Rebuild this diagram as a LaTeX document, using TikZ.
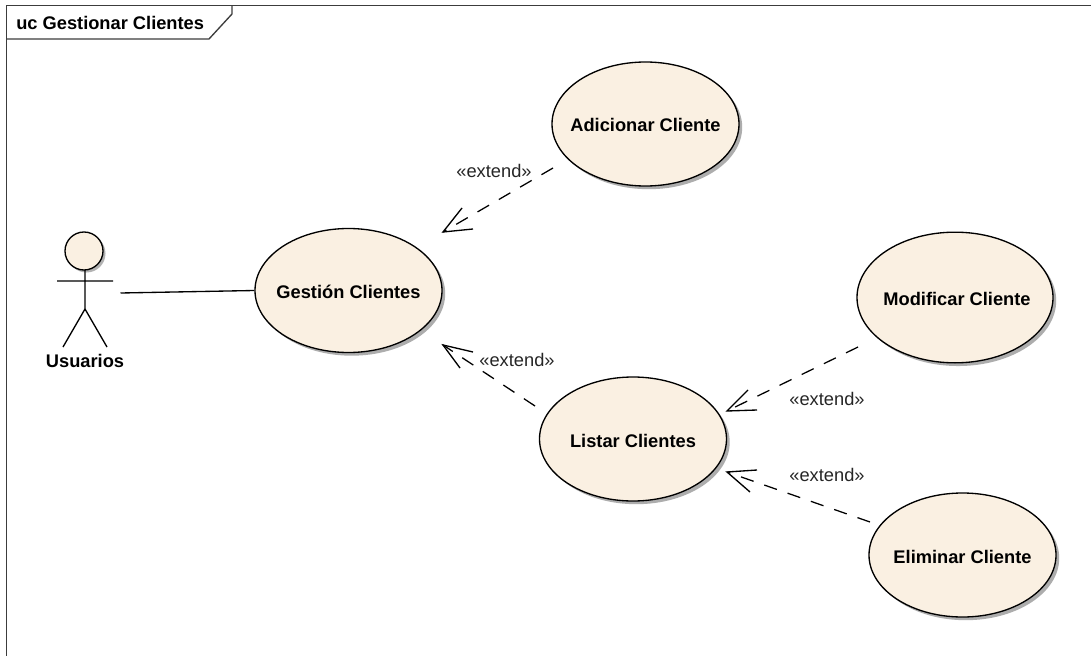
\documentclass[tikz,border=0pt]{standalone}
\usepackage{fontspec}
\setmainfont{Liberation Sans}
\usetikzlibrary{arrows.meta,shadows,shapes.geometric}
\definecolor{ucfill}{RGB}{250,240,226}
\definecolor{frameline}{RGB}{60,60,60}
\newcommand{\dgfont}{\fontsize{13.7}{16}\selectfont}
\tikzset{
  x=0.75pt,y=-0.75pt,
  usecase/.style={ellipse,draw=black,line width=1pt,fill=ucfill,minimum width=140.25pt,minimum height=93pt,inner xsep=-30pt,inner ysep=0pt,text height=13pt,text depth=1pt,font=\bfseries\dgfont,
    drop shadow={shadow xshift=2.4pt,shadow yshift=-2.4pt,fill=black!32,opacity=1}},
  extendline/.style={draw=black,line width=0.95pt,dash pattern=on 10pt off 8.5pt,-},
  openhead/.style={draw=black,line width=1pt,-},
  stereo/.style={font=\dgfont,text=black!85,inner sep=0pt},
  stickline/.style={draw=black,line width=1pt},
  assoc/.style={draw=black,line width=1pt},
}
\begin{document}
\begin{tikzpicture}
\useasboundingbox (0,0) rectangle (1091,656);
\fill[white] (0,0) rectangle (1091,656);
% frame
\draw[frameline,line width=1pt] (6.5,656) -- (6.5,5.5) -- (1091,5.5);
\draw[frameline,line width=1pt] (6.5,39) -- (209,39) -- (232,14) -- (232,5.5);
\node[anchor=west,inner sep=0pt,font=\bfseries\dgfont] (title) at (16,23) {uc Gestionar Clientes};
% use cases
\node[usecase] (gestion) at (348.5,290.5) {Gestión Clientes};
\node[usecase] (adicionar) at (645.5,124) {Adicionar Cliente};
\node[usecase] (listar) at (633,439) {Listar Clientes};
\node[usecase,minimum width=147pt,minimum height=98pt] (modificar) at (955,297.5) {\hspace*{3pt}Modificar Cliente};
\node[usecase] (eliminar) at (962.5,555) {Eliminar Cliente};
% actor
\fill[black!30] (86.5,253.5) circle (14.25pt);
\node[circle,draw=black,line width=1pt,fill=ucfill,minimum size=28.5pt,inner sep=0pt] (head) at (84,251) {};
\coordinate (hip) at (85,309);
\coordinate (armL) at (57,281);
\coordinate (armR) at (113,281);
\coordinate (footL) at (63,347);
\coordinate (footR) at (107,347);
\draw[stickline] (85,270) -- (hip) (armL) -- (armR) (footL) -- (hip) -- (footR);
\node[inner sep=0pt,font=\bfseries\dgfont] (usuarios) at (85,360.5) {Usuarios};
% association
\coordinate (actorEnd) at (120.5,293);
\draw[assoc] (actorEnd) -- (gestion.west);
% extend: adicionar -> gestion
\coordinate (a1) at (553,168);
\coordinate (a2) at (443,232);
\draw[extendline] (a1) -- (a2);
\coordinate (a3) at (462,208); \coordinate (a4) at (473,229);
\draw[openhead] (a3) -- (a2) -- (a4);
\node[stereo] (l1) at (494,171) {«extend»};
% extend: listar -> gestion
\coordinate (b1) at (535,406);
\coordinate (b2) at (443,345);
\draw[extendline] (b1) -- (b2);
\coordinate (b3) at (473,352); \coordinate (b4) at (460,368);
\draw[openhead] (b3) -- (b2) -- (b4);
\node[stereo] (l2) at (517,360) {«extend»};
% extend: modificar -> listar
\coordinate (c1) at (858,347);
\coordinate (c2) at (727,411);
\draw[extendline] (c1) -- (c2);
\coordinate (c3) at (748,390); \coordinate (c4) at (757,410);
\draw[openhead] (c3) -- (c2) -- (c4);
\node[stereo] (l3) at (827,399) {«extend»};
% extend: eliminar -> listar
\coordinate (d1) at (870,522);
\coordinate (d2) at (727,472);
\draw[extendline] (d1) -- (d2);
\coordinate (d3) at (757,470); \coordinate (d4) at (750,492);
\draw[openhead] (d3) -- (d2) -- (d4);
\node[stereo] (l4) at (827,475) {«extend»};
\end{tikzpicture}
\end{document}
